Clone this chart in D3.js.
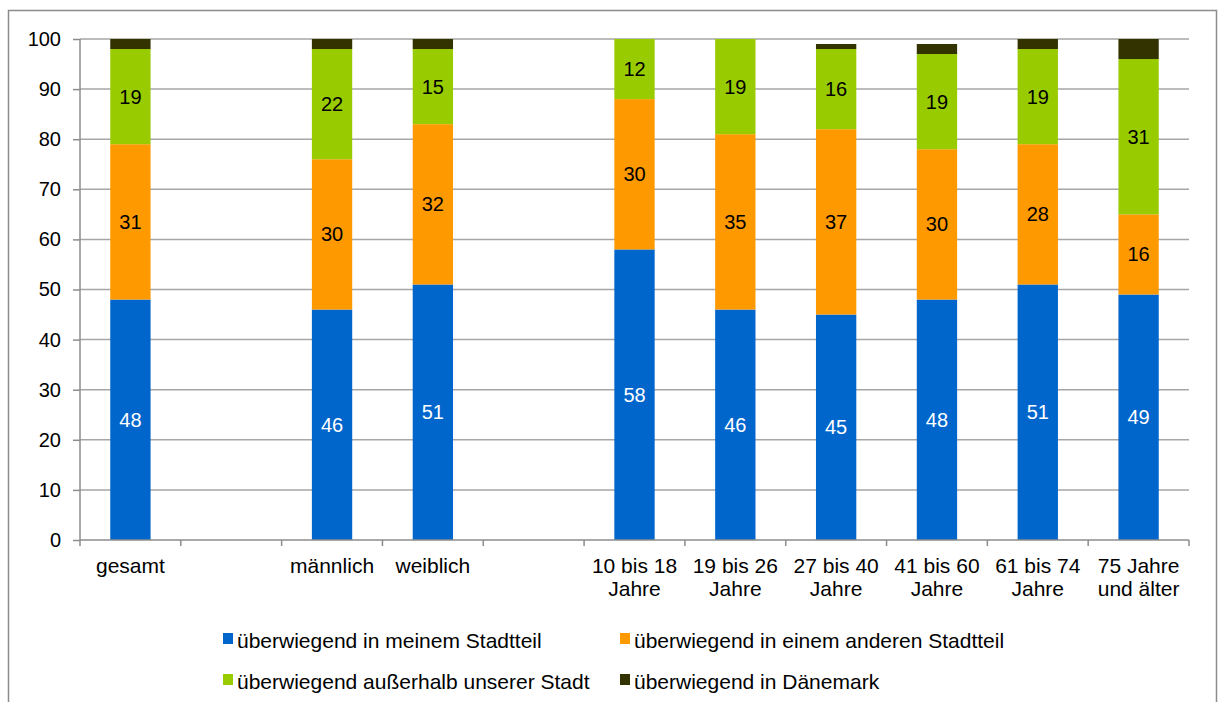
<!DOCTYPE html>
<html><head><meta charset="utf-8">
<script src="https://cdn.jsdelivr.net/npm/d3@7"></script>
<style>body{margin:0;background:#fff;}text{font-family:"Liberation Sans",Arial,sans-serif;}</style>
</head><body><svg id="c" width="1218" height="702"></svg>
<script>
const categories = ["gesamt","", "männlich","weiblich","", "10 bis 18|Jahre","19 bis 26|Jahre","27 bis 40|Jahre","41 bis 60|Jahre","61 bis 74|Jahre","75 Jahre|und älter"];
const seriesNames = ["überwiegend in meinem Stadtteil","überwiegend in einem anderen Stadtteil","überwiegend außerhalb unserer Stadt","überwiegend in Dänemark"];
const meinStadtteil   = [48,null,46,51,null,58,46,45,48,51,49];
const andererStadtteil= [31,null,30,32,null,30,35,37,30,28,16];
const ausserhalb      = [19,null,22,15,null,12,19,16,19,19,31];
const daenemark       = [2,null,2,2,null,0,0,1,2,2,4];
const yTicks = [0,10,20,30,40,50,60,70,80,90,100];
const colors = ["#0066CC","#FF9900","#99CC00","#333300"];
const labelColors = ["#ffffff","#000000","#000000",null];

const svg = d3.select("#c");
svg.append("rect").attr("x",8.5).attr("y",10.5).attr("width",1208).attr("height",720).attr("fill","none").attr("stroke","#8c8c8c").attr("stroke-width",1.5);

const L=80,R=1189,T=39,B=540;
const x = d3.scaleBand().domain(d3.range(categories.length)).range([L,R]).paddingInner(0.6).paddingOuter(0.3);
const y = d3.scaleLinear().domain([0,100]).range([B,T]);

// gridlines
svg.append("g").selectAll("line").data(yTicks.filter(d=>d>0)).join("line")
  .attr("x1",L).attr("x2",R).attr("y1",d=>y(d)).attr("y2",d=>y(d)).attr("stroke","#a6a6a6").attr("stroke-width",1.5);

const series=[meinStadtteil,andererStadtteil,ausserhalb,daenemark];
const rows = categories.map((c,i)=>({i, vals: series.map(s=>s[i])}));
const stackGen = d3.stack().keys([0,1,2,3]).value((d,k)=>d.vals[k]||0);
const stacked = stackGen(rows);

stacked.forEach((layer,k)=>{
  const g=svg.append("g");
  g.selectAll("rect").data(layer.filter(d=>d.data.vals[k])).join("rect")
    .attr("x",d=>x(d.data.i)).attr("width",x.bandwidth())
    .attr("y",d=>y(d[1])).attr("height",d=>y(d[0])-y(d[1]))
    .attr("fill",colors[k]);
  if(labelColors[k]){
    g.selectAll("text").data(layer.filter(d=>d.data.vals[k])).join("text")
      .attr("x",d=>x(d.data.i)+x.bandwidth()/2).attr("y",d=>y((d[0]+d[1])/2)+7)
      .attr("text-anchor","middle").attr("font-size",20).attr("fill",labelColors[k])
      .text(d=>d.data.vals[k]);
  }
});

// y axis
const yAxis = d3.axisLeft(y).tickValues(yTicks).tickSize(7).tickPadding(12);
const ya = svg.append("g").attr("transform",`translate(${L},0)`).call(yAxis);
ya.selectAll("text").attr("font-size",20).attr("fill","#000").attr("font-family","Liberation Sans, Arial, sans-serif");
ya.selectAll("line,path").attr("stroke","#8c8c8c").attr("stroke-width",1.5);
ya.select("path").attr("d",`M0,${T}V${B}`);

// x axis baseline and ticks at band boundaries
const step = x.step();
const bounds = d3.range(categories.length+1).map(i=>L+i*step);
svg.append("line").attr("x1",L).attr("x2",R).attr("y1",B).attr("y2",B).attr("stroke","#8c8c8c").attr("stroke-width",1.5);
svg.append("g").selectAll("line").data(bounds).join("line")
  .attr("x1",d=>d).attr("x2",d=>d).attr("y1",B).attr("y2",B+6).attr("stroke","#8c8c8c").attr("stroke-width",1.5);

const xl = svg.append("g");
categories.forEach((c,i)=>{
  if(!c) return;
  const lines=c.split("|");
  const t=xl.append("text").attr("x",x(i)+x.bandwidth()/2).attr("y",573).attr("text-anchor","middle").attr("font-size",21).attr("fill","#000");
  lines.forEach((ln,j)=>t.append("tspan").attr("x",x(i)+x.bandwidth()/2).attr("dy",j?23:0).text(ln));
});

// legend
const legPos=[[223,648],[620,648],[223,689],[620,689]];
seriesNames.forEach((n,k)=>{
  const [lx,ly]=legPos[k];
  svg.append("rect").attr("x",lx).attr("y",ly-15).attr("width",10).attr("height",11).attr("fill",colors[k]);
  svg.append("text").attr("x",lx+14).attr("y",ly).attr("font-size",21).attr("fill","#000").text(n);
});
</script></body></html>
